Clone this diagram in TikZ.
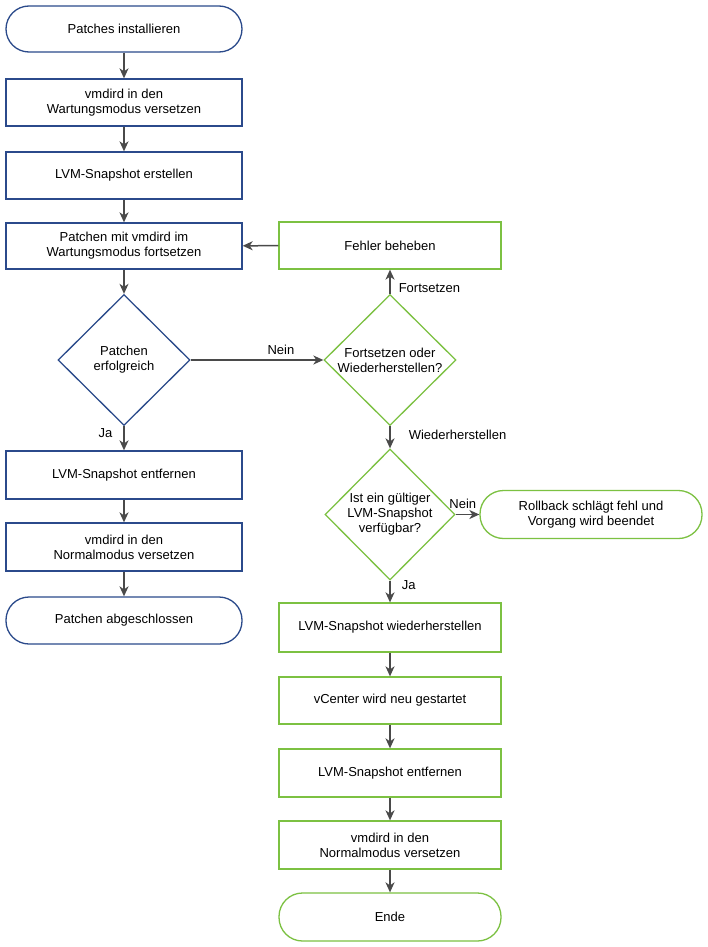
\documentclass[tikz,border=0pt]{standalone}
\usepackage{fontspec}
\setmainfont{Liberation Sans}
\usetikzlibrary{shapes.geometric,arrows.meta}
\definecolor{vblue}{HTML}{2B4A8B}
\definecolor{vgreen}{HTML}{7CC142}
\definecolor{arr}{HTML}{4A4A4A}
\begin{document}
\begin{tikzpicture}[x=1pt,y=-1pt,
  every node/.style={font=\fontsize{13pt}{15pt}\selectfont, align=center, inner sep=0pt},
  bbox/.style={draw=vblue, line width=1.3pt, rectangle, minimum width=236pt, minimum height=47pt},
  bterm/.style={bbox, rounded corners=23pt},
  bdia/.style={draw=vblue, line width=1.3pt, diamond, minimum width=132pt, minimum height=131pt},
  gbox/.style={draw=vgreen, line width=1.3pt, rectangle, minimum width=222pt, minimum height=47pt},
  gterm/.style={gbox, rounded corners=23.5pt, minimum height=48pt},
  gdia/.style={draw=vgreen, line width=1.3pt, diamond, minimum width=131pt, minimum height=131pt},
  flow/.style={draw=arr, line width=1.5pt, -{Stealth[length=10pt,width=9pt,inset=3pt]}},
  lbl/.style={font=\fontsize{13pt}{15pt}\selectfont}
]
\useasboundingbox[fill=white] (0,0) rectangle (707,947);
% left column
\node[bterm, minimum height=46pt] (start) at (124,29) {Patches installieren};
\node[bbox] (b1) at (124,102.5) {vmdird in den\\Wartungsmodus versetzen};
\node[bbox] (b2) at (124,175.5) {LVM-Snapshot erstellen};
\node[bbox, minimum height=46pt] (b3) at (124,246) {Patchen mit vmdird im\\Wartungsmodus fortsetzen};
\node[bdia] (d1) at (124,360) {Patchen\\erfolgreich};
\node[bbox, minimum height=48pt] (b4) at (124,475) {LVM-Snapshot entfernen};
\node[bbox, minimum height=48pt] (b5) at (124,547) {vmdird in den\\Normalmodus versetzen};
\node[bterm] (end1) at (124,620.5) {Patchen abgeschlossen};
% right column
\node[gbox] (fix) at (390,245.5) {Fehler beheben};
\node[gdia, minimum width=132pt] (d2) at (390,360) {Fortsetzen oder\\Wiederherstellen?};
\node[gdia, minimum width=130pt] (d3) at (390,514.5) {Ist ein gültiger\\LVM-Snapshot\\verfügbar?};
\node[gterm] (rb) at (591,514.5) {Rollback schlägt fehl und\\Vorgang wird beendet};
\node[gbox, minimum height=49pt] (r1) at (390,627.5) {LVM-Snapshot wiederherstellen};
\node[gbox] (r2) at (390,700.5) {vCenter wird neu gestartet};
\node[gbox, minimum height=48pt] (r3) at (390,773) {LVM-Snapshot entfernen};
\node[gbox, minimum height=48pt] (r4) at (390,845) {vmdird in den\\Normalmodus versetzen};
\node[gterm] (ende) at (390,917) {Ende};
% connectors
\draw[flow] (start) -- (b1);
\draw[flow] (b1) -- (b2);
\draw[flow] (b2) -- (b3);
\draw[flow] (b3) -- (d1);
\draw[flow] (d1.south) -- node[lbl, pos=0.3, anchor=east, xshift=-11pt] {Ja} (b4);
\draw[flow] (b4) -- (b5);
\draw[flow] (b5) -- (end1);
\draw[flow] (d1.east) -- node[lbl, pos=0.68, anchor=south, yshift=5pt] {Nein} (d2.west);
\draw[flow] (d2.north) -- node[lbl, pos=0.25, anchor=west, xshift=8pt] {Fortsetzen} (fix);
\draw[flow] (fix) -- (b3);
\draw[flow] (d2.south) -- node[lbl, pos=0.4, anchor=west, xshift=18pt] {Wiederherstellen} (d3.north);
\draw[flow] (d3.east) -- node[lbl, pos=0.3, anchor=south, yshift=5pt] {Nein} (rb.west);
\draw[flow] (d3.south) -- node[lbl, pos=0.2, anchor=west, xshift=11pt] {Ja} (r1);
\draw[flow] (r1) -- (r2);
\draw[flow] (r2) -- (r3);
\draw[flow] (r3) -- (r4);
\draw[flow] (r4) -- (ende);
\end{tikzpicture}
\end{document}
